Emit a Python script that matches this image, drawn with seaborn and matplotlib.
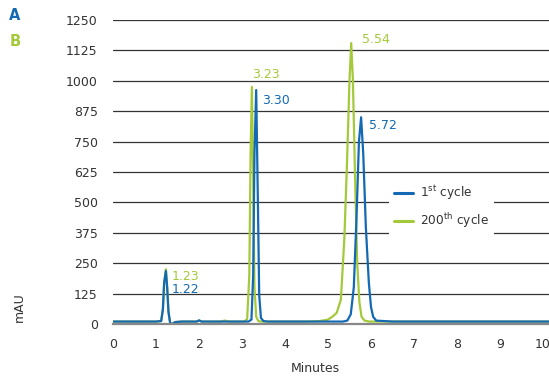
import matplotlib
matplotlib.use("Agg")
import matplotlib.pyplot as plt
import seaborn as sns
import pandas as pd

# ---- data ----
t_first = [0, 1.00, 1.12, 1.16, 1.19, 1.23, 1.26, 1.29, 1.33, 1.37, 1.45, 1.60,
           1.95, 2.00, 2.06, 2.60, 3.15, 3.22, 3.26, 3.29, 3.33, 3.37, 3.40, 3.44,
           3.50, 3.60, 4.50, 5.35, 5.45, 5.53, 5.60, 5.66, 5.72, 5.77, 5.82, 5.88,
           5.95, 6.00, 6.05, 6.12, 6.50, 10.14]
v_first = [10, 10, 12, 60, 170, 218, 150, 50, 3, 0, 8, 10,
           10, 15, 10, 10, 10, 18, 200, 700, 962, 500, 120, 25,
           12, 10, 10, 10, 14, 40, 150, 420, 750, 850, 700, 400,
           170, 70, 30, 14, 10, 10]

t_200 = [0, 1.00, 1.12, 1.16, 1.19, 1.23, 1.26, 1.29, 1.33, 1.37, 1.45, 1.60,
         1.95, 2.00, 2.06, 2.50, 2.60, 2.70, 3.05, 3.12, 3.17, 3.20, 3.23, 3.26,
         3.29, 3.33, 3.38, 3.45, 3.60, 4.50, 4.80, 5.00, 5.10, 5.20, 5.30, 5.38,
         5.44, 5.50, 5.54, 5.58, 5.63, 5.68, 5.73, 5.78, 5.85, 5.95, 6.20, 10.14]
v_200 = [10, 10, 12, 60, 170, 225, 150, 50, 3, 0, 8, 10,
         10, 14, 10, 10, 14, 10, 10, 20, 200, 700, 975, 600,
         150, 30, 12, 10, 10, 10, 12, 18, 30, 45, 100, 350,
         650, 1000, 1155, 1000, 600, 250, 90, 30, 14, 10, 10, 10]

series_names = ["1$^{\\mathrm{st}}$ cycle", "200$^{\\mathrm{th}}$ cycle"]
peak_labels_first = ["1.22", "3.30", "5.72"]
peak_pos_first = [(1.37, 140), (3.47, 917), (5.95, 818)]
peak_labels_200 = ["1.23", "3.23", "5.54"]
peak_pos_200 = [(1.37, 197), (3.23, 1024), (5.79, 1168)]
y_ticks = [0, 125, 250, 375, 500, 625, 750, 875, 1000, 1125, 1250]
x_ticks = list(range(0, 11))

BLUE = "#1369b3"
GREEN = "#a4c93a"

df_first = pd.DataFrame({"Minutes": t_first, "mAU": v_first})
df_200 = pd.DataFrame({"Minutes": t_200, "mAU": v_200})

sns.set_style("white")
plt.rcParams["font.family"] = ["DejaVu Sans"]

fig = plt.figure(figsize=(5.49, 3.76), dpi=100)
ax = fig.add_axes([113 / 549, 1 - 324 / 376, 1 - 113 / 549, (324 - 20) / 376])

# green first so that blue lies on top, as in the reference
sns.lineplot(data=df_200, x="Minutes", y="mAU", sort=False, estimator=None,
             color=GREEN, linewidth=1.6, ax=ax, label=series_names[1])
sns.lineplot(data=df_first, x="Minutes", y="mAU", sort=False, estimator=None,
             color=BLUE, linewidth=1.6, ax=ax, label=series_names[0])

ax.set_xlim(0, 10.14)
ax.set_ylim(0, 1250)
ax.set_xticks(x_ticks)
ax.set_yticks(y_ticks)
ax.set_xlabel("")
ax.set_ylabel("")
ax.tick_params(axis="both", length=0, labelsize=9, colors="#333333")
ax.tick_params(axis="x", pad=10)
ax.tick_params(axis="y", pad=11)
ax.yaxis.grid(True, color="#333333", linewidth=0.9)
ax.set_axisbelow(True)
for s in ["top", "right", "left"]:
    ax.spines[s].set_visible(False)
ax.spines["bottom"].set_color("#888888")
ax.spines["bottom"].set_linewidth(1.6)

for lab, (x, y) in zip(peak_labels_first, peak_pos_first):
    ax.text(x, y, lab, color=BLUE, fontsize=9, ha="left", va="center")
for lab, (x, y) in zip(peak_labels_200, peak_pos_200):
    ax.text(x, y, lab, color=GREEN, fontsize=9, ha="left", va="center")

handles, labels = ax.get_legend_handles_labels()
order = [labels.index(n) for n in series_names]
leg = ax.legend([handles[i] for i in order], [labels[i] for i in order],
                loc="upper left", bbox_to_anchor=(383 / 549, 1 - 173 / 376),
                bbox_transform=fig.transFigure, frameon=True, fontsize=8.7,
                handlelength=1.6, handletextpad=0.6, labelspacing=0.75,
                borderpad=0.4)
leg.get_frame().set_facecolor("white")
leg.get_frame().set_edgecolor("none")
leg.get_frame().set_alpha(1)
leg.get_frame().set_boxstyle("square", pad=0)
for line in leg.get_lines():
    line.set_linewidth(2.2)
for txt in leg.get_texts():
    txt.set_color("#333333")

fig.text(15 / 549, 1 - 16 / 376, "A", color=BLUE, fontsize=10.5,
         fontweight="bold", ha="center", va="center")
fig.text(15 / 549, 1 - 42 / 376, "B", color=GREEN, fontsize=10.5,
         fontweight="bold", ha="center", va="center")
fig.text(19 / 549, 1 - 307 / 376, "mAU", rotation=90, color="#333333",
         fontsize=9, ha="center", va="center")
fig.text(315 / 549, 1 - 369 / 376, "Minutes", color="#333333",
         fontsize=9, ha="center", va="center")

fig.savefig("out.png", dpi=100)
